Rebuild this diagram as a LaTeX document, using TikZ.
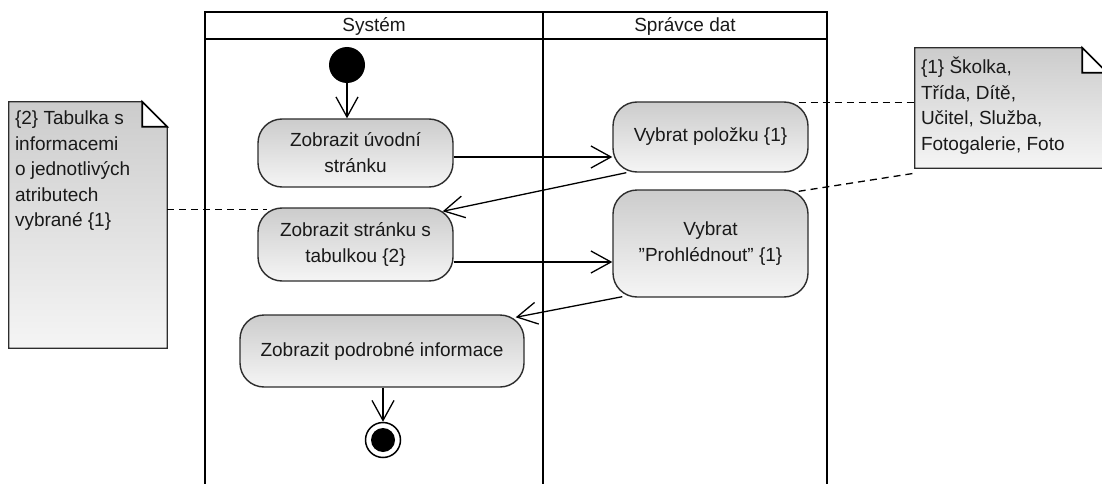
\documentclass[tikz,border=0pt]{standalone}
\usepackage{fontspec}
\setmainfont{Liberation Sans}
\usetikzlibrary{arrows.meta,calc}
\definecolor{shadeTop}{RGB}{204,204,204}
\definecolor{shadeBot}{RGB}{245,245,245}
\definecolor{edgegray}{RGB}{45,45,45}
\definecolor{inkgray}{RGB}{25,25,25}
% straight double quote, kept out of the TeX ligature mapping
\newcommand{\sdq}{\char34\relax}

\begin{document}
\begin{tikzpicture}[x=1pt,y=-1pt,
  every node/.style={font=\fontsize{19}{26}\selectfont, text=inkgray},
  lane/.style={line width=2.6pt, draw=black},
  action/.style={draw=edgegray, line width=1.4pt, rounded corners=24pt,
    top color=shadeTop, bottom color=shadeBot, inner sep=0pt, align=center},
  notebox/.style={inner sep=0pt, draw=none},
  notepaper/.style={draw=edgegray, line width=1.3pt, top color=shadeTop, bottom color=shadeBot},
  notefold/.style={draw=black, line width=1.6pt, fill=white},
  notetext/.style={font=\fontsize{19}{25.5}\selectfont, align=left, inner sep=0pt, anchor=north west},
  flow/.style={draw=black, line width=1.3pt,
    -{Straight Barb[length=20pt,width=22pt,line width=1.3pt]}},
  anchorline/.style={draw=black, line width=1.3pt, dash pattern=on 7pt off 5pt},
]
\clip (0,0) rectangle (1102,484);
\useasboundingbox (0,0) rectangle (1102,484);

% swimlane frame, open at the bottom
\coordinate (poolTL) at (205,12);
\coordinate (poolTM) at (543,12);
\coordinate (poolTR) at (827,12);
\draw[lane] (205,484) -- (poolTL) -- (poolTR) -- (827,484);
\draw[lane] (poolTM) -- (543,484);
\draw[lane] (205,39) -- (827,39);
\node (laneSys) at (374,26) {Systém};
\node (laneData) at (685,26) {Správce dat};

% start and end
\node[circle, fill=black, minimum size=36pt, inner sep=0pt] (init) at (347,65) {};
\node[circle, draw=black, line width=1.5pt, fill=white, minimum size=35pt, inner sep=0pt] (fin) at (383,440) {};
\node[circle, fill=black, minimum size=24pt, inner sep=0pt] (finDot) at (fin) {};

% actions
\node[action, minimum width=195pt, minimum height=68pt] (A) at (355.5,153)
  {Zobrazit úvodní\\stránku};
\node[action, minimum width=195pt, minimum height=70pt] (B) at (710.5,137)
  {Vybrat položku \{1\}};
\node[action, minimum width=195pt, minimum height=73pt] (C) at (355.5,244.5)
  {Zobrazit stránku s\\tabulkou \{2\}};
\node[action, minimum width=195pt, minimum height=107pt] (D) at (710.5,243.5)
  {Vybrat\\\sdq Prohlédnout\sdq{} \{1\}};
\node[action, minimum width=284pt, minimum height=72pt] (E) at (382,351)
  {Zobrazit podrobné informace};

% notes with a folded corner
\node[notebox, minimum width=158pt, minimum height=246pt] (N2) at (88,225) {};
\fill[notepaper] (N2.north west) -- ($(N2.north east)+(-25,0)$) -- ($(N2.north east)+(0,25)$)
  -- (N2.south east) -- (N2.south west) -- cycle;
\draw[notefold] ($(N2.north east)+(-25,0)$) -- ($(N2.north east)+(-25,25)$)
  -- ($(N2.north east)+(0,25)$) -- cycle;
\node[notetext] (N2text) at ($(N2.north west)+(6,9)$)
  {\{2\} Tabulka s\\informacemi\\o jednotlivých\\atributech\\vybrané \{1\}};

\node[notebox, minimum width=192pt, minimum height=120pt] (N1) at (1011,108) {};
\fill[notepaper] (N1.north west) -- ($(N1.north east)+(-25,0)$) -- ($(N1.north east)+(0,25)$)
  -- (N1.south east) -- (N1.south west) -- cycle;
\draw[notefold] ($(N1.north east)+(-25,0)$) -- ($(N1.north east)+(-25,25)$)
  -- ($(N1.north east)+(0,25)$) -- cycle;
\node[notetext] (N1text) at ($(N1.north west)+(6,9)$)
  {\{1\} Školka,\\Třída, Dítě,\\Učitel, Služba,\\Fotogalerie, Foto};

% control flow
\coordinate (AtoB) at ($(A.east)+(0,4)$);
\coordinate (CtoD) at ($(C.east)+(0,17.5)$);
\draw[flow] (init) -- (init |- A.north);
\draw[flow] (AtoB) -- (AtoB -| B.west);
\draw[flow] ($(B.south west)+(14,0)$) -- ($(C.north east)+(-11,4)$);
\draw[flow] (CtoD) -- (CtoD -| D.west);
\draw[flow] ($(D.south west)+(10,-1)$) -- ($(E.north east)+(-9,3)$);
\draw[flow] (E.south -| fin) -- (fin.north);

% note attachments
\draw[anchorline] ($(N2.east |- C.north)+(0,2)$) -- ($(C.north west)+(10,2)$);
\draw[anchorline] ($(B.north east)+(-10,1)$) -- ($(N1.west |- B.north)+(0,1)$);
\draw[anchorline] ($(D.north east)+(-10,2)$) -- ($(N1.south west)+(0,5)$);
\end{tikzpicture}
\end{document}
